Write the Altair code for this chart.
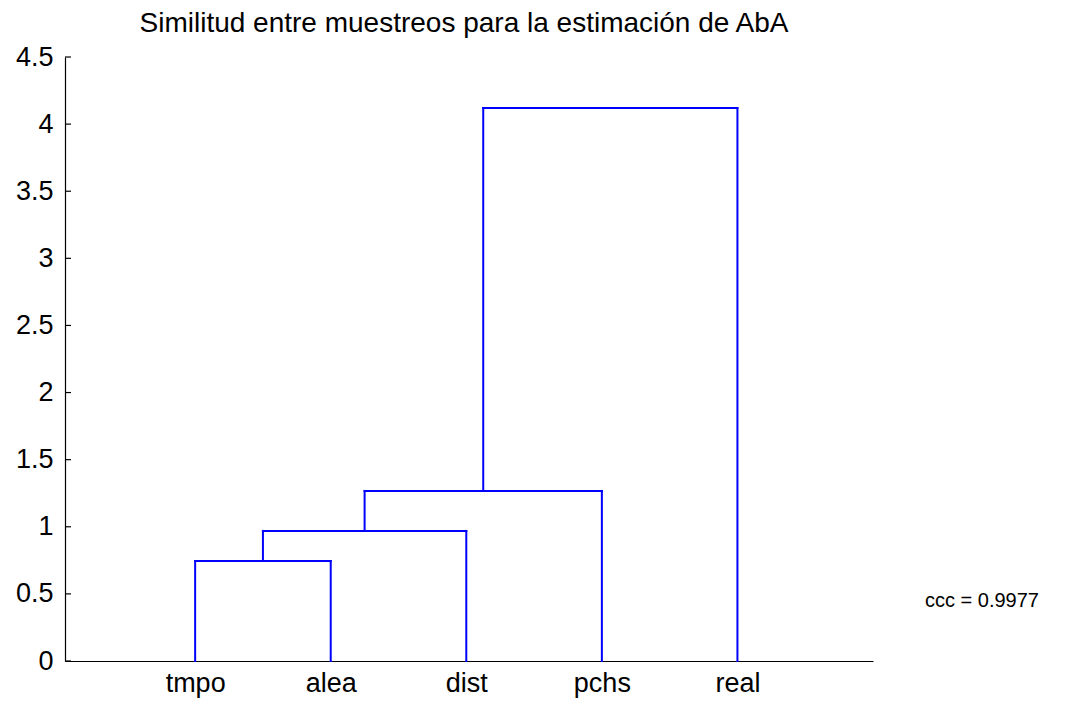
import altair as alt
import pandas as pd

# Leaves in dendrogram order and the successive merge heights
leaves = ["tmpo", "alea", "dist", "pchs", "real"]
merge_heights = [0.745, 0.969, 1.267, 4.12]
y_ticks = [0, 0.5, 1, 1.5, 2, 2.5, 3, 3.5, 4, 4.5]
ccc_label = "ccc = 0.9977"

FONT = "Liberation Sans"
BLUE = "#0000ff"

# Build the dendrogram links: each step joins the running cluster with the next leaf
segs = []
left_x, left_h = 1.0, 0.0
for i, h in enumerate(merge_heights):
    right_x = float(i + 2)
    segs.append({"x": left_x, "x2": left_x, "y": left_h, "y2": h})
    segs.append({"x": right_x, "x2": right_x, "y": 0.0, "y2": h})
    segs.append({"x": left_x, "x2": right_x, "y": h, "y2": h})
    left_x, left_h = (left_x + right_x) / 2, h
seg_df = pd.DataFrame(segs)

xscale = alt.Scale(domain=[0.04, 6], nice=False, zero=False)
yscale = alt.Scale(domain=[0, 4.5], nice=False)

names_js = "[" + ",".join("'%s'" % n for n in leaves) + "]"

links = alt.Chart(seg_df).mark_rule(color=BLUE, strokeWidth=2, strokeCap="square").encode(
    x=alt.X("x:Q", scale=xscale, axis=alt.Axis(
        values=list(range(1, len(leaves) + 1)),
        labelExpr=names_js + "[datum.value - 1]",
        title=None, grid=False, ticks=False, labelPadding=9,
        labelFont=FONT, labelFontSize=27, labelColor="black",
        domainColor="black", domainWidth=1.2)),
    x2="x2:Q",
    y=alt.Y("y:Q", scale=yscale, axis=alt.Axis(
        values=y_ticks, format="~g", title=None, grid=False, ticks=False,
        labelPadding=12, labelFont=FONT, labelFontSize=27, labelColor="black",
        domainColor="black", domainWidth=1.2)),
    y2="y2:Q",
)

# Inward-pointing tick marks on the vertical axis
tick_df = pd.DataFrame({"t": y_ticks})
ticks = alt.Chart(tick_df).mark_rule(color="black", strokeWidth=1.2).encode(
    y=alt.Y("t:Q", scale=yscale),
    x=alt.value(0),
    x2=alt.value(6),
)

ccc = alt.Chart(pd.DataFrame({"label": [ccc_label]})).mark_text(
    align="left", baseline="middle", font=FONT, fontSize=20, color="black"
).encode(
    text="label:N",
    x=alt.value(860),
    y=alt.value(544),
)

chart = alt.layer(links, ticks, ccc).properties(
    width=808,
    height=604,
    autosize=alt.AutoSizeParams(type="none"),
    padding={"left": 65, "top": 57, "right": 197, "bottom": 44},
    title=alt.Title(
        "Similitud entre muestreos para la estimación de AbA",
        font=FONT, fontSize=28, fontWeight="normal", color="black",
        anchor="middle", offset=5, dx=-5,
    ),
).configure(background="white").configure_view(strokeWidth=0, stroke="transparent")

chart.save("out.html", embed_options={"renderer": "svg", "actions": False})
